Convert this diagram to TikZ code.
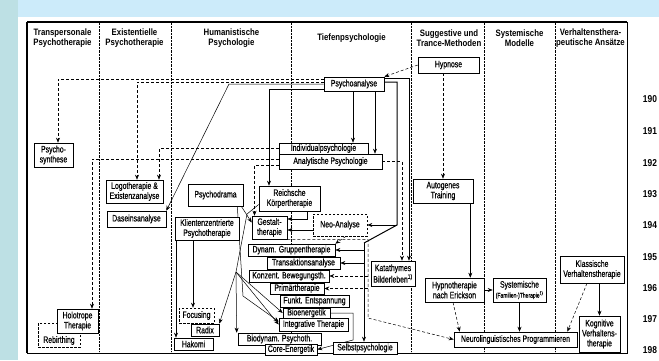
\documentclass[tikz,border=0pt]{standalone}
\usepackage{fontspec}
\setmainfont{Liberation Sans}[FakeStretch=0.74]
\newfontfamily\boxfont{Liberation Sans}[FakeStretch=0.74, FakeBold=0.5]
\newfontfamily\hdrfont{Liberation Sans}[FakeStretch=0.84]
\usetikzlibrary{arrows.meta}
\definecolor{stripc}{HTML}{BDE0E4}
\definecolor{bandc}{HTML}{CCEBFA}
\pgfdeclarelayer{bg}
\pgfsetlayers{bg,main}
\begin{document}
\begin{tikzpicture}[x=1pt,y=-1pt,
  box/.style={draw, line width=0.6pt, fill=white, inner sep=0pt, align=center,
    font=\boxfont\fontsize{9.3}{10}\selectfont},
  dbox/.style={box, dash pattern=on 2.5pt off 1.5pt},
  sz/.style 2 args={minimum width=#1pt, minimum height=#2pt},
  arr/.style={-{Stealth[length=5pt,width=4pt]}, line width=0.5pt},
  darr/.style={arr, dash pattern=on 3pt off 2pt},
  hdr/.style={font=\hdrfont\bfseries\fontsize{9.3}{10}\selectfont, align=center, inner sep=0pt},
  yr/.style={font=\hdrfont\bfseries\fontsize{10}{10}\selectfont, inner sep=0pt},
  sep/.style={densely dotted, line width=0.4pt}]
\useasboundingbox (0,0) rectangle (659,360);

% headers
\node[hdr] (h1) at (62.5,38.5) {Transpersonale\\Psychotherapie};
\node[hdr] (h2) at (134.5,38.5) {Existentielle\\Psychotherapie};
\node[hdr] (h3) at (231.5,38.5) {Humanistische\\Psychologie};
\node[hdr] (h4) at (351.5,38.5) {Tiefenpsychologie};
\node[hdr] (h5) at (449,38.5) {Suggestive und\\Trance-Methoden};
\node[hdr] (h6) at (519.5,38.5) {Systemische\\Modelle};
\node[hdr] (h7) at (590.5,38.5) {Verhaltensthera-\\peutische Ansätze};

% years
\node[yr] (y0) at (650,99.5) {190};
\node[yr] (y1) at (650,131) {191};
\node[yr] (y2) at (650,163) {192};
\node[yr] (y3) at (650,194) {193};
\node[yr] (y4) at (650,225) {194};
\node[yr] (y5) at (650,257) {195};
\node[yr] (y6) at (650,288) {196};
\node[yr] (y7) at (650,319) {197};
\node[yr] (y8) at (650,350) {198};

% boxes
\node[box, sz={60}{14}] (psa) at (354,84) {Psychoanalyse};
\node[box, sz={61}{16}] (hyp) at (448.5,65) {Hypnose};
\node[box, sz={39}{24}] (psy) at (53.5,155) {Psycho-\\synthese};
\node[box, sz={57}{23}] (logo) at (134.5,191.5) {Logotherapie \&\\Existenzanalyse};
\node[box, sz={59}{16}] (dasein) at (136.5,219) {Daseinsanalyse};
\node[box, sz={55}{22}] (pdrama) at (215.5,195) {Psychodrama};
\node[box, sz={64}{23}] (klient) at (207,228.5) {Klientenzentrierte\\Psychotherapie};
\node[box, sz={89}{11}] (indiv) at (323.5,148.5) {Individualpsychologie};
\node[box, sz={103}{15}] (analyt) at (330.5,161.5) {Analytische Psychologie};
\node[box, sz={61}{25}] (reich) at (289.5,198.5) {Reichsche\\Körpertherapie};
\node[box, sz={35}{23}] (gestalt) at (269.5,227.5) {Gestalt-\\therapie};
\node[dbox, sz={54}{22}] (neo) at (340,225) {Neo-Analyse};
\node[box, sz={60}{24}] (auto) at (443,191) {Autogenes\\Training};
\node[box, sz={87}{12}] (dynam) at (291.5,250) {Dynam. Gruppentherapie};
\node[box, sz={73}{12}] (trans) at (303.5,263) {Transaktionsanalyse};
\node[box, sz={80}{12}] (konz) at (289,276) {Konzent. Bewegungsth.};
\node[box, sz={54}{11}] (primar) at (297,288.5) {Primärtherapie};
\node[box, sz={69}{12}] (funkt) at (314.5,301) {Funkt. Entspannung};
\node[box, sz={47}{10}] (bioen) at (306.5,313) {Bioenergetik};
\node[box, sz={69}{13}] (integ) at (313.5,324.5) {Integrative Therapie};
\node[box, sz={83}{12}] (biodyn) at (279.5,339) {Biodynam. Psychoth.};
\node[box, sz={52}{11}] (core) at (291,349.5) {Core-Energetik};
\node[box, sz={64}{12}] (selbst) at (365,348) {Selbstpsychologie};
\node[box, sz={44}{25}] (katat) at (393,273.5) {Katathymes\\Bilderleben\textsuperscript{1)}};
\node[box, sz={59}{24}] (hypno) at (454.5,290) {Hypnotherapie\\nach Erickson};
\node[box, sz={53}{24}] (syst) at (519.5,290) {Systemische\\{\fontsize{6.8}{7}\selectfont (Familien-)Therapie\textsuperscript{1)}}};
\node[box, sz={64}{27}] (klass) at (592,269.5) {Klassische\\Verhaltenstherapie};
\node[box, sz={41}{36}] (kogn) at (599.5,334) {Kognitive\\Verhaltens-\\therapie};
\node[box, sz={123}{15}] (nlp) at (515.5,339.5) {Neurolinguistisches Programmieren};
\node[dbox, sz={35}{15}] (focus) at (196.5,315.5) {Focusing};
\node[box, sz={28}{12}] (radix) at (205,330) {Radix};
\node[box, sz={39}{12}] (hakomi) at (193.5,344) {Hakomi};
\node[dbox, sz={42}{24}] (rebirth) at (59,335) {};
\node[inner sep=0pt, font=\boxfont\fontsize{9.3}{10}\selectfont] (rebirthT) at (59,340.5) {Rebirthing};
\node[box, sz={41}{24}] (holo) at (77.5,321) {Holotrope\\Therapie};

\begin{pgfonlayer}{bg}
\fill[stripc] (0,0) rectangle (18,360);
\fill[bandc] (18,0) rectangle (659,17);
\draw[line width=0.8pt] (27,22) rectangle (627,353);
\draw[line width=1.6pt] (27,22) -- (627,22);
\draw[line width=1.2pt] (27,22) -- (27,353);
\foreach \xx in {99,171,291,411,484,555} \draw[sep] (\xx,23) -- (\xx,352);

% Hypnose
\draw[darr] (hyp.west) -- (psa.north east);
\draw[darr] (auto.north |- hyp.south) -- (auto.north);
\draw[arr] ([xshift=-3pt]auto.south east) -- ([xshift=-3pt]auto.south east |- hypno.north);
\draw[arr] (hypno.east) -- (syst.west);
\draw[darr] ([xshift=-1.5pt]hypno.south) -- ([xshift=6pt]nlp.north west);
\draw[arr] (syst.south) -- (syst.south |- nlp.north);
\draw[arr] (kogn.north |- klass.south) -- (kogn.north);
\draw[darr] ([xshift=-5pt]klass.south) -- ([xshift=-10pt]nlp.north east);

% Gestalt -> NLP etc.
\coordinate (g1) at (368,239.5);
\coordinate (g2) at (368,318);
\draw[darr] (gestalt.south east) -- (g1) -- (g2) -- (nlp.west);
\draw[darr] (g1 |- konz.east) -- (konz.east);
\draw[darr] (g1 |- primar.east) -- (primar.east);

% Psychoanalyse right side
\draw[darr] (analyt.east) -| ([xshift=9pt]katat.north);
\draw[arr] ([yshift=6pt]psa.east) -| ([xshift=16pt]katat.north);
\coordinate (t1) at (397,82);
\coordinate (t2) at (397,225);
\coordinate (t3) at (364,243);
\draw[line width=1pt] ([yshift=2pt]psa.east) -- (t1) -- (t2) -- (t3);
\draw[arr] (t3) -- (t3 |- selbst.north);
\draw[arr] (t2) -- (neo.east);
\draw[arr] (t3 |- dynam.east) -- (dynam.east);
\draw[arr] (t3 |- trans.east) -- (trans.east);

% Psychoanalyse down / left
\draw[arr] ([xshift=-1pt]psa.south) -- ([xshift=-1pt]psa.south |- indiv.north);
\draw[arr] ([xshift=21pt]psa.south) -- ([xshift=21pt]psa.south |- analyt.north);
\draw[arr] ([yshift=-5pt]psa.west) -| ([xshift=-20.5pt]reich.north);
\coordinate (d1) at (229,84);
\draw[arr] (psa.west) -- (d1) -- (dasein.north east);
\draw[darr] ([yshift=5pt]psa.west) -| ([xshift=4.5pt]psy.north);
\draw[darr] ([yshift=2pt]psa.west) -| ([xshift=2.5pt]logo.north);
\draw[darr] (indiv.west) -| ([xshift=24.5pt]logo.north);
\draw[darr] ([yshift=2.5pt]analyt.west) -| ([xshift=14.5pt]holo.north);
\draw[darr] ([yshift=-3.5pt]analyt.west) -| ([xshift=-15pt]gestalt.north);

% Gestalt inputs
\draw[arr] ([xshift=17.5pt]reich.south) |- ([yshift=8.5pt]gestalt.east);
\draw[arr] ([yshift=-2.5pt]gestalt.east -| neo.west) -- ([yshift=-2.5pt]gestalt.east);
\draw[darr] ([xshift=6pt]neo.south) -- (dynam.north east);
\draw[arr] ([xshift=-2pt]pdrama.south east) -- ([yshift=5pt]gestalt.west);

% Klientenzentriert
\draw[arr] ([xshift=-3.5pt]focus.north |- klient.south) -- ([xshift=-3.5pt]focus.north);
\draw[arr] ([xshift=-31pt]klient.south) -- ([xshift=-31pt]klient.south |- hakomi.north);

% body therapies fan
\coordinate (F) at (236,272);
\coordinate (r1) at (247,214);
\draw[line width=0.5pt] ([yshift=-6pt]reich.west) -- (r1) -- (F);
\draw[arr] (F) -- (radix.north east);
\draw[arr] (F) -- ([xshift=-1pt]biodyn.north west);
\draw[arr] (F) -- (bioen.west);
\draw[arr] (F) -- (integ.west);
\coordinate (p1) at (243,296);
\draw[arr] ([xshift=-6pt]pdrama.south east) -- (p1) -- ([yshift=3pt]integ.west);
\coordinate (c1) at (353,340);
\draw[arr] (bioen.east) -| (c1) -- (core.east);
\end{pgfonlayer}
\end{tikzpicture}
\end{document}
